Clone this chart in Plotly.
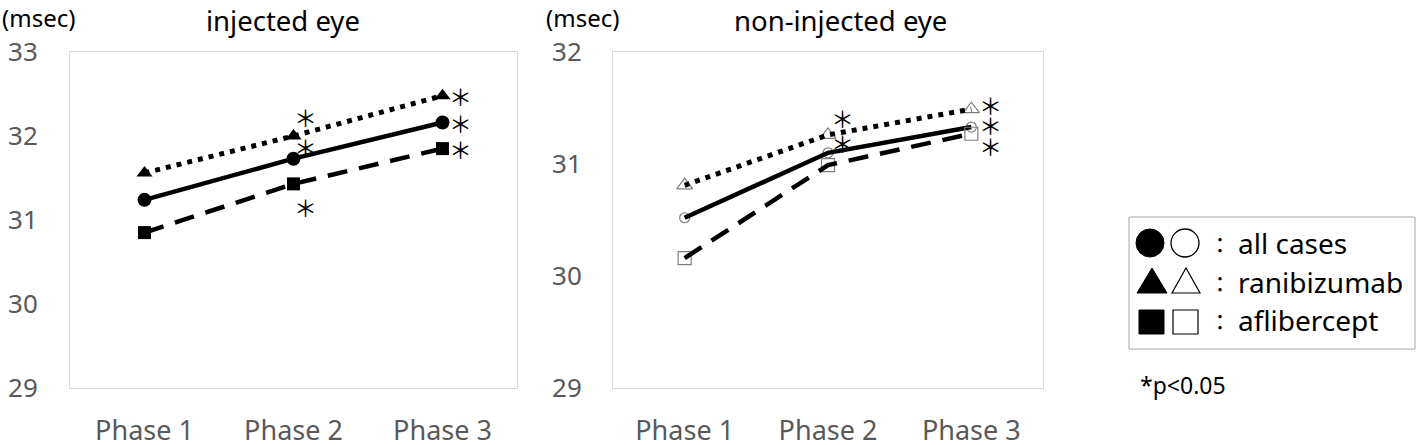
import plotly.graph_objects as go

W, H = 1418, 445

phases = ["Phase 1", "Phase 2", "Phase 3"]
series_names = ["all cases", "ranibizumab", "aflibercept"]

# injected eye (msec)
inj_all = [31.24, 31.73, 32.16]
inj_ranib = [31.56, 32.00, 32.48]
inj_aflib = [30.85, 31.43, 31.85]

# non-injected eye (msec)
non_all = [30.52, 31.10, 31.33]
non_ranib = [30.81, 31.26, 31.49]
non_aflib = [30.16, 30.99, 31.27]

# significance flags (p<0.05) per phase
inj_sig_all = [False, True, True]
inj_sig_ranib = [False, True, True]
inj_sig_aflib = [False, True, True]
non_sig_all = [False, True, True]
non_sig_ranib = [False, True, True]
non_sig_aflib = [False, False, True]

y_ticks_inj = [29, 30, 31, 32, 33]
y_ticks_non = [29, 30, 31, 32]


def px(x):
    return x / W


def py(y):
    return 1 - y / H


fig = go.Figure()

LINE_STYLES = {
    "all cases": dict(dash="solid", width=4.5),
    "ranibizumab": dict(dash="5px,6px", width=5),
    "aflibercept": dict(dash="20px,12px", width=4.5),
}
FILLED = {"all cases": "circle", "ranibizumab": "triangle-up", "aflibercept": "square"}
OPEN = {"all cases": "circle-open", "ranibizumab": "triangle-up-open", "aflibercept": "square-open"}
SIZE_F = {"all cases": 14, "ranibizumab": 14, "aflibercept": 13}
SIZE_O = {"all cases": 10, "ranibizumab": 14, "aflibercept": 13}

inj = {"all cases": inj_all, "ranibizumab": inj_ranib, "aflibercept": inj_aflib}
non = {"all cases": non_all, "ranibizumab": non_ranib, "aflibercept": non_aflib}

for name in series_names:
    fig.add_trace(go.Scatter(x=phases, y=inj[name], mode="lines+markers", xaxis="x", yaxis="y",
                             line=dict(color="black", **LINE_STYLES[name]),
                             marker=dict(symbol=FILLED[name], size=SIZE_F[name], color="black"),
                             showlegend=False, hoverinfo="skip"))

for name in series_names:
    fig.add_trace(go.Scatter(x=phases, y=non[name], mode="markers", xaxis="x2", yaxis="y2",
                             marker=dict(symbol=OPEN[name], size=SIZE_O[name], color="#7f7f7f",
                                         line=dict(width=1.2, color="#7f7f7f")),
                             showlegend=False, hoverinfo="skip"))
    fig.add_trace(go.Scatter(x=phases, y=non[name], mode="lines", xaxis="x2", yaxis="y2",
                             line=dict(color="black", **LINE_STYLES[name]),
                             showlegend=False, hoverinfo="skip"))

# asterisk offsets (pixels) per series / phase
inj_shift = {
    "all cases": [(0, 0), (12, 12), (18, 0)],
    "ranibizumab": [(0, 0), (12, 19), (18, 0)],
    "aflibercept": [(0, 0), (12, -23), (18, 0)],
}
non_shift = {
    "all cases": [(0, 0), (14, 10), (19, 2)],
    "ranibizumab": [(0, 0), (14, 17), (19, 4)],
    "aflibercept": [(0, 0), (14, 0), (19, -12)],
}
inj_sig = {"all cases": inj_sig_all, "ranibizumab": inj_sig_ranib, "aflibercept": inj_sig_aflib}
non_sig = {"all cases": non_sig_all, "ranibizumab": non_sig_ranib, "aflibercept": non_sig_aflib}

STAR_FONT = dict(family="Noto Sans CJK JP", size=23, color="black")
for name in series_names:
    for i, ph in enumerate(phases):
        if inj_sig[name][i]:
            dx, dy = inj_shift[name][i]
            fig.add_annotation(x=ph, y=inj[name][i], xref="x", yref="y", text="＊",
                               xanchor="center", yanchor="middle",
                               showarrow=False, xshift=dx, yshift=dy, font=STAR_FONT)
        if non_sig[name][i]:
            dx, dy = non_shift[name][i]
            fig.add_annotation(x=ph, y=non[name][i], xref="x2", yref="y2", text="＊",
                               xanchor="center", yanchor="middle",
                               showarrow=False, xshift=dx, yshift=dy, font=STAR_FONT)

YTICK_FONT = dict(family="Noto Sans", size=26, color="#595959")
XTICK_FONT = dict(family="Noto Sans", size=27, color="#595959")
axis_common = dict(showgrid=False, zeroline=False, showline=True, mirror=True, automargin=False,
                   linecolor="#d9d9d9", linewidth=1, ticks="")

fig.update_layout(
    width=W, height=H,
    margin=dict(l=0, r=0, t=0, b=0, autoexpand=False),
    paper_bgcolor="white", plot_bgcolor="white",
    xaxis=dict(domain=[px(70), px(517)], anchor="y", type="category", tickfont=XTICK_FONT,
               range=[-0.5, 2.5], ticklabelstandoff=19, **axis_common),
    yaxis=dict(domain=[py(388), py(52)], anchor="x", range=[29, 33], tickfont=YTICK_FONT,
               tickvals=y_ticks_inj, ticklabelstandoff=26, **axis_common),
    xaxis2=dict(domain=[px(613), px(1043)], anchor="y2", type="category", tickfont=XTICK_FONT,
                range=[-0.5, 2.5], ticklabelstandoff=19, **axis_common),
    yaxis2=dict(domain=[py(388), py(52)], anchor="x2", range=[29, 32], tickfont=YTICK_FONT,
                tickvals=y_ticks_non, ticklabelstandoff=25, **axis_common),
)


def note(x, y, text, size, xanchor="center", family="Noto Sans"):
    fig.add_annotation(x=px(x), y=py(y), xref="paper", yref="paper", text=text,
                       xanchor=xanchor, yanchor="middle", showarrow=False,
                       font=dict(size=size, family=family, color="black"))


note(283, 20, "injected eye", 27.5)
note(840, 20, "non-injected eye", 27.5)
note(0, 17, "(msec)", 24, "left")
note(544, 17, "(msec)", 24, "left")

# legend box
shapes = [dict(type="rect", xref="paper", yref="paper", x0=px(1129), x1=px(1415), y0=py(349), y1=py(217),
               line=dict(color="#a6a6a6", width=1), fillcolor="white", layer="below")]
shapes.append(dict(type="circle", xref="paper", yref="paper", x0=px(1136), x1=px(1164), y0=py(257), y1=py(229),
                   fillcolor="black", line=dict(color="black", width=1)))
shapes.append(dict(type="circle", xref="paper", yref="paper", x0=px(1171), x1=px(1199), y0=py(257), y1=py(229),
                   fillcolor="white", line=dict(color="black", width=1.3)))


def tri(x0, x1, y0, y1):
    xm = (x0 + x1) / 2
    return f"M {px(x0)} {py(y1)} L {px(x1)} {py(y1)} L {px(xm)} {py(y0)} Z"


shapes.append(dict(type="path", xref="paper", yref="paper", path=tri(1137, 1167, 268, 293),
                   fillcolor="black", line=dict(color="black", width=1)))
shapes.append(dict(type="path", xref="paper", yref="paper", path=tri(1172, 1200, 268, 293),
                   fillcolor="white", line=dict(color="black", width=1.2)))
shapes.append(dict(type="rect", xref="paper", yref="paper", x0=px(1139), x1=px(1164), y0=py(334), y1=py(310),
                   fillcolor="black", line=dict(color="black", width=1)))
shapes.append(dict(type="rect", xref="paper", yref="paper", x0=px(1173), x1=px(1198), y0=py(334), y1=py(310),
                   fillcolor="white", line=dict(color="black", width=1.2)))
fig.update_layout(shapes=shapes)

for yy, name in zip([243, 282, 320], series_names):
    note(1220, yy, "：", 22, "center", "Noto Sans CJK JP")
    note(1236, yy, name, 28, "left")

note(1138, 385, "*p<0.05", 23, "left")

fig.write_html("out.html", config={"displayModeBar": False},
               post_script="document.body.style.margin='0';document.body.style.padding='0';")
